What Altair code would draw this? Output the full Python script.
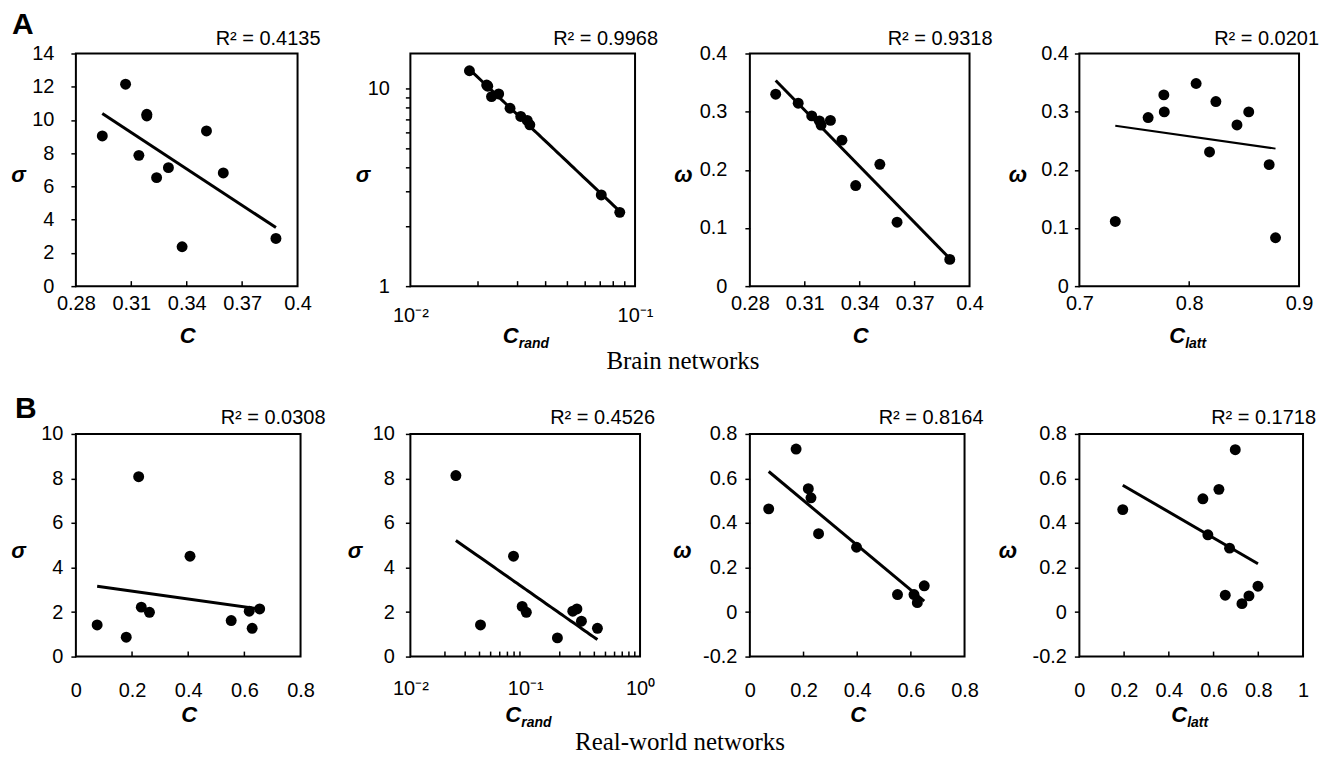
import altair as alt
import pandas as pd

# ---------------- data ----------------
# A: Brain networks
A1_C = [0.2943, 0.3069, 0.3184, 0.3184, 0.3141, 0.3237, 0.3301, 0.3375, 0.3507, 0.3598, 0.3883]
A1_sigma = [9.04, 12.15, 10.34, 10.24, 7.87, 6.53, 7.13, 2.37, 9.34, 6.81, 2.87]

A2_Crand = [0.01832, 0.02186, 0.0221, 0.02297, 0.02472, 0.02777, 0.03099, 0.03313, 0.03402, 0.07074, 0.08551]
A2_sigma = [12.27, 10.39, 10.25, 9.08, 9.37, 7.93, 7.21, 6.88, 6.54, 2.89, 2.36]

A3_C = [0.2941, 0.3064, 0.3138, 0.3180, 0.3189, 0.3240, 0.3303, 0.3378, 0.3510, 0.3604, 0.3892]
A3_omega = [0.330, 0.3145, 0.2927, 0.284, 0.277, 0.285, 0.251, 0.173, 0.2095, 0.110, 0.046]

A4_Clatt = [0.7327, 0.7626, 0.7769, 0.7773, 0.8063, 0.8185, 0.8243, 0.8435, 0.8542, 0.8728, 0.8786]
A4_omega = [0.1113, 0.2898, 0.3288, 0.2996, 0.3484, 0.2307, 0.3174, 0.2772, 0.2996, 0.2089, 0.0832]

# B: Real-world networks
B1_C = [0.0757, 0.1793, 0.2236, 0.2329, 0.2620, 0.4064, 0.5531, 0.6172, 0.6277, 0.6545]
B1_sigma = [1.42, 0.87, 8.08, 2.22, 1.99, 4.51, 1.62, 2.04, 1.27, 2.14]

B2_Crand = [0.0249, 0.0408, 0.0791, 0.0941, 0.1023, 0.1907, 0.2596, 0.2821, 0.3087, 0.4256]
B2_sigma = [8.13, 1.42, 4.51, 2.25, 1.99, 0.84, 2.04, 2.14, 1.59, 1.27]

B3_C = [0.0702, 0.1723, 0.2178, 0.2277, 0.2560, 0.3975, 0.5502, 0.6117, 0.6240, 0.6498]
B3_omega = [0.4634, 0.732, 0.554, 0.513, 0.352, 0.291, 0.0785, 0.0785, 0.0423, 0.1177]

B4_Clatt = [0.194, 0.5522, 0.6239, 0.697, 0.5746, 0.6716, 0.6522, 0.7269, 0.7582, 0.7985]
B4_omega = [0.460, 0.5087, 0.551, 0.729, 0.347, 0.287, 0.0755, 0.0377, 0.0725, 0.1162]

R2_LABELS = ["R² = 0.4135", "R² = 0.9968", "R² = 0.9318", "R² = 0.0201",
             "R² = 0.0308", "R² = 0.4526", "R² = 0.8164", "R² = 0.1718"]

# tick values
A1_XT = [0.28, 0.31, 0.34, 0.37, 0.4]
A1_YT = [0, 2, 4, 6, 8, 10, 12, 14]
A2_XT = [0.01, 0.1]
A2_XMINOR = [0.02, 0.03, 0.04, 0.05, 0.06, 0.07, 0.08, 0.09]
A2_YT = [1, 2, 3, 4, 5, 6, 7, 8, 9, 10]
A3_YT = [0, 0.1, 0.2, 0.3, 0.4]
A4_XT = [0.7, 0.8, 0.9]
B1_XT = [0, 0.2, 0.4, 0.6, 0.8]
B1_YT = [0, 2, 4, 6, 8, 10]
B2_XT = [0.01, 0.1, 1]
B2_XMINOR = [0.02, 0.03, 0.04, 0.05, 0.06, 0.07, 0.08, 0.09,
             0.2, 0.3, 0.4, 0.5, 0.6, 0.7, 0.8, 0.9]
B3_YT = [-0.2, 0, 0.2, 0.4, 0.6, 0.8]
B4_XT = [0, 0.2, 0.4, 0.6, 0.8, 1]

FONT = "Liberation Sans"
SERIF = "Liberation Serif"
LBL = 20
PLAIN = "'' + datum.value"


def txt(text, x, y, size, weight="normal", style="normal", align="center",
        baseline="alphabetic", font=FONT):
    return alt.Chart(pd.DataFrame({"t": [text]})).mark_text(
        align=align, baseline=baseline, font=font, fontSize=size,
        fontWeight=weight, fontStyle=style, color="black"
    ).encode(x=alt.value(x), y=alt.value(y), text="t:N")


def panel(xs, ys, *, w, h, xscale, yscale, xvals, yvals, xexpr, yexpr, xminor,
          xpad, ypad, ytitle, ytx, r2, r2dx, r2y, xsub, xty, method, lw,
          extras=()):
    df = pd.DataFrame({"x": xs, "y": ys})
    xaxis = alt.Axis(values=xvals, labelExpr=xexpr, ticks=False, tickSize=0,
                     domain=False, grid=False, labelPadding=xpad, labelFont=FONT,
                     labelFontSize=LBL, labelColor="black", labelFlush=False,
                     labelOverlap=False, title=None)
    yaxis = alt.Axis(values=yvals, labelExpr=yexpr, ticks=True, tickSize=5,
                     tickWidth=1.5, tickColor="black", domain=False, grid=False,
                     labelPadding=ypad, labelFont=FONT, labelFontSize=LBL,
                     labelColor="black", labelFlush=False, labelOverlap=False,
                     title=ytitle, titleAngle=0, titleX=ytx, titleY=h / 2 + 5,
                     titleAlign="center", titleBaseline="middle", titleFont=FONT,
                     titleFontSize=22, titleFontWeight="bold",
                     titleFontStyle="italic", titleColor="black")
    X = alt.X("x:Q", scale=xscale, axis=xaxis)
    Y = alt.Y("y:Q", scale=yscale, axis=yaxis)
    base = alt.Chart(df)
    line = base.transform_regression("x", "y", method=method).mark_line(
        color="black", strokeWidth=lw).encode(x=X, y=Y)
    pts = base.mark_circle(size=120, color="black", opacity=1).encode(x=X, y=Y)
    ticks = alt.Chart(pd.DataFrame({"x": xminor})).mark_rule(
        color="black", strokeWidth=1.5).encode(
        x=X, y=alt.value(h), y2=alt.value(h - 5))
    layers = [ticks, line, pts,
              txt(r2, w + r2dx, r2y, LBL, align="right")]
    if xsub:
        layers.append(txt("C", w / 2 - 4, h + xty, 22, "bold", "italic", align="right"))
        layers.append(txt(xsub, w / 2 - 4, h + xty + 5, 14, "bold", "italic", align="left"))
    else:
        layers.append(txt("C", w / 2 + 1, h + xty, 22, "bold", "italic"))
    layers.extend(extras)
    return alt.layer(*layers).properties(width=w, height=h)


HA, HB = 233, 223
lin = lambda d: alt.Scale(domain=d, nice=False, zero=False)
log = lambda d: alt.Scale(type="log", domain=d, nice=False)

A2_XEXPR = "datum.value == 0.01 ? '10⁻²' : datum.value == 0.1 ? '10⁻¹' : ''"
A2_YEXPR = "datum.value == 1 ? '1' : datum.value == 10 ? '10' : ''"
B2_XEXPR = ("datum.value == 0.01 ? '10⁻²' : datum.value == 0.1 ? '10⁻¹' : "
            "datum.value == 1 ? '10⁰' : ''")

pA1 = panel(A1_C, A1_sigma, w=222, h=HA, xscale=lin([0.28, 0.4]), yscale=lin([0, 14]),
            xvals=A1_XT, yvals=A1_YT, xexpr=PLAIN, yexpr=PLAIN, xminor=A1_XT[1:-1],
            xpad=7, ypad=17, ytitle="σ", ytx=-58, r2=R2_LABELS[0], r2dx=23, r2y=-9,
            xsub=None, xty=57, method="linear", lw=3,
            extras=[txt("A", -64, -20, 30, "bold", align="left")])
pA2 = panel(A2_Crand, A2_sigma, w=225, h=HA, xscale=log([0.01, 0.1]), yscale=log([1, 15]),
            xvals=A2_XT, yvals=A2_YT, xexpr=A2_XEXPR, yexpr=A2_YEXPR, xminor=A2_XMINOR,
            xpad=19, ypad=16, ytitle="σ", ytx=-48, r2=R2_LABELS[1], r2dx=23, r2y=-9,
            xsub="rand", xty=57, method="pow", lw=3,
            extras=[txt("Brain networks", 273, 308, 25, baseline="middle", font=SERIF)])
pA3 = panel(A3_C, A3_omega, w=220, h=HA, xscale=lin([0.28, 0.4]), yscale=lin([0, 0.4]),
            xvals=A1_XT, yvals=A3_YT, xexpr=PLAIN, yexpr=PLAIN, xminor=A1_XT[1:-1],
            xpad=7, ypad=18, ytitle="ω", ytx=-67, r2=R2_LABELS[2], r2dx=23, r2y=-9,
            xsub=None, xty=57, method="linear", lw=3)
pA4 = panel(A4_Clatt, A4_omega, w=220, h=HA, xscale=lin([0.7, 0.9]), yscale=lin([0, 0.4]),
            xvals=A4_XT, yvals=A3_YT, xexpr=PLAIN, yexpr=PLAIN, xminor=[0.8],
            xpad=7, ypad=6, ytitle="ω", ytx=-62, r2=R2_LABELS[3], r2dx=20, r2y=-9,
            xsub="latt", xty=57, method="linear", lw=2)
pB1 = panel(B1_C, B1_sigma, w=225, h=HB, xscale=lin([0, 0.8]), yscale=lin([0, 10]),
            xvals=B1_XT, yvals=B1_YT, xexpr=PLAIN, yexpr=PLAIN, xminor=B1_XT[1:-1],
            xpad=24, ypad=8, ytitle="σ", ytx=-58, r2=R2_LABELS[4], r2dx=25, r2y=-10,
            xsub=None, xty=66, method="linear", lw=3,
            extras=[txt("B", -61, -16, 30, "bold", align="left")])
pB2 = panel(B2_Crand, B2_sigma, w=230, h=HB, xscale=log([0.01, 1]), yscale=lin([0, 10]),
            xvals=B2_XT, yvals=B1_YT, xexpr=B2_XEXPR, yexpr=PLAIN, xminor=B2_XMINOR,
            xpad=22, ypad=11, ytitle="σ", ytx=-56, r2=R2_LABELS[5], r2dx=15, r2y=-10,
            xsub="rand", xty=66, method="log", lw=3,
            extras=[txt("Real-world networks", 270, 309, 25, baseline="middle", font=SERIF)])
pB3 = panel(B3_C, B3_omega, w=215, h=HB, xscale=lin([0, 0.8]), yscale=lin([-0.2, 0.8]),
            xvals=B1_XT, yvals=B3_YT, xexpr=PLAIN, yexpr=PLAIN, xminor=B1_XT[1:-1],
            xpad=24, ypad=8, ytitle="ω", ytx=-68, r2=R2_LABELS[6], r2dx=19, r2y=-10,
            xsub=None, xty=66, method="linear", lw=3)
pB4 = panel(B4_Clatt, B4_omega, w=224, h=HB, xscale=lin([0, 1]), yscale=lin([-0.2, 0.8]),
            xvals=B4_XT, yvals=B3_YT, xexpr=PLAIN, yexpr=PLAIN, xminor=B4_XT[1:-1],
            xpad=24, ypad=8, ytitle="ω", ytx=-72, r2=R2_LABELS[7], r2dx=13, r2y=-10,
            xsub="latt", xty=66, method="linear", lw=3)

chart = alt.concat(
    pA1, pA2, pA3, pA4, pB1, pB2, pB3, pB4,
    columns=4, spacing={"row": 148, "column": 110}, bounds="flush", align="none"
).properties(
    padding={"left": 9, "top": 8, "right": 5, "bottom": 2}, background="white"
).configure_view(stroke="black", strokeWidth=2)

chart.save("out.html", embed_options={"renderer": "svg", "actions": False})
